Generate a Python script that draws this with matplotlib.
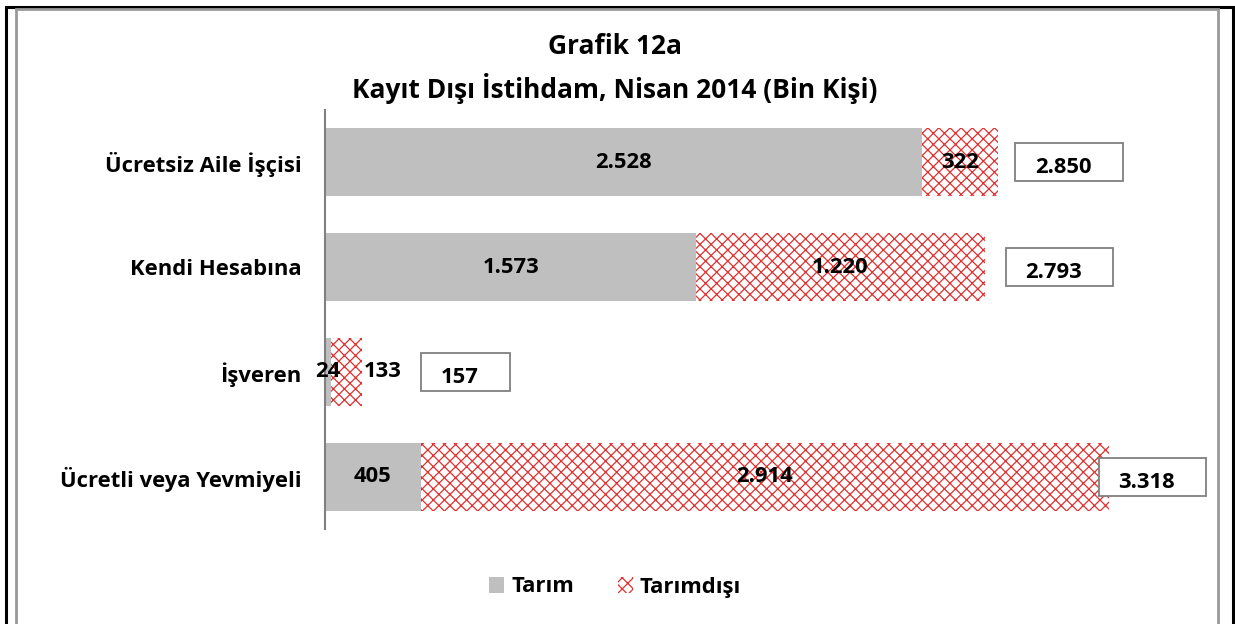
import matplotlib.pyplot as plt
from matplotlib.patches import Rectangle, Patch
from matplotlib.transforms import IdentityTransform

plt.rcParams['font.family'] = ['Open Sans', 'DejaVu Sans']
plt.rcParams['hatch.linewidth'] = 0.9

categories = ['Ücretsiz Aile İşçisi', 'Kendi Hesabına', 'İşveren', 'Ücretli veya Yevmiyeli']
tarim = [2528, 1573, 24, 405]
tarimdisi = [322, 1220, 133, 2914]
totals = [2850, 2793, 157, 3318]

def fmt(v):
    return f"{v:,}".replace(',', '.')

FS = 15.8
W, H = 1235, 624
fig = plt.figure(figsize=(W / 100, H / 100), dpi=100)

# outer frames
fig.patches.append(Rectangle((5.5 / W, -0.05), (1233 - 5.5) / W, 1.05 - 6.5 / H,
                             transform=fig.transFigure, fill=False, edgecolor='black', linewidth=2.2))
fig.patches.append(Rectangle((15.5 / W, -0.05), (1218 - 15.5) / W, 1.05 - 8.5 / H,
                             transform=fig.transFigure, fill=False, edgecolor='#999999', linewidth=2))

ax = fig.add_axes([325 / W, 1 - 529 / H, (1205 - 325) / W, (529 - 110) / H])
px_per_unit = (922 - 325) / 2528
ax.set_xlim(0, (1205 - 325) / px_per_unit)
ax.set_ylim(3.5, -0.5)

ypos = list(range(len(categories)))
ax.barh(ypos, tarim, height=0.65, color='#bfbfbf', label='Tarım')
ax.barh(ypos, tarimdisi, left=tarim, height=0.65, color='white', edgecolor='#e03030',
        linewidth=0, hatch='xxx', label='Tarımdışı')

for y, a, b, t in zip(ypos, tarim, tarimdisi, totals):
    ax.text(a / 2, y, fmt(a), ha='center', va='center', fontsize=FS, fontweight='bold')
    if b < 200:
        ax.text(a + b + 8, y, fmt(b), ha='left', va='center', fontsize=FS, fontweight='bold')
    else:
        ax.text(a + b / 2, y, fmt(b), ha='center', va='center', fontsize=FS, fontweight='bold')

ax.set_yticks(ypos)
ax.set_yticklabels(categories, fontsize=FS, fontweight='bold')
ax.tick_params(axis='y', length=0, pad=17)
ax.set_xticks([])
for s in ['top', 'right', 'bottom']:
    ax.spines[s].set_visible(False)
ax.spines['left'].set_color('#808080')
ax.spines['left'].set_linewidth(1.5)

fig.text(615 / W, 1 - 46 / H, 'Grafik 12a', ha='center', va='center', fontsize=19, fontweight='bold')
fig.text(615 / W, 1 - 88 / H, 'Kayıt Dışı İstihdam, Nisan 2014 (Bin Kişi)', ha='center', va='center',
         fontsize=19, fontweight='bold')

handles = [Patch(facecolor='#bfbfbf', label='Tarım'),
           Patch(facecolor='white', edgecolor='#e03030', linewidth=0, hatch='xxx', label='Tarımdışı')]
fig.legend(handles=handles, loc='center', bbox_to_anchor=(615 / W, 1 - 587 / H), ncol=2, frameon=False,
           prop={'size': FS, 'weight': 'bold'}, handlelength=0.7, handleheight=0.7,
           handletextpad=0.3, columnspacing=2.0)

# total boxes: box left edge offset in pixels from bar end; text sits low in the box
total_dx = [17, 21, 59, -10]
pad_l, pad_r, box_h = 20, 31, 38
labels = []
for y, t, dx in zip(ypos, totals, total_dx):
    txt = ax.annotate(fmt(t), xy=(t, y), xytext=((dx + pad_l) * 0.72, -4), textcoords='offset points',
                      ha='left', va='center', fontsize=FS, fontweight='bold', zorder=5)
    labels.append((txt, y, t))

fig.canvas.draw()
for txt, y, t in labels:
    bb = txt.get_window_extent()
    yc = ax.transData.transform((t, y))[1]
    ax.add_patch(Rectangle((bb.x0 - pad_l, yc - box_h / 2), bb.width + pad_l + pad_r, box_h,
                           transform=IdentityTransform(), facecolor='white', edgecolor='#808080',
                           linewidth=1.3, zorder=4, clip_on=False))

fig.savefig('out.png', dpi=100)
